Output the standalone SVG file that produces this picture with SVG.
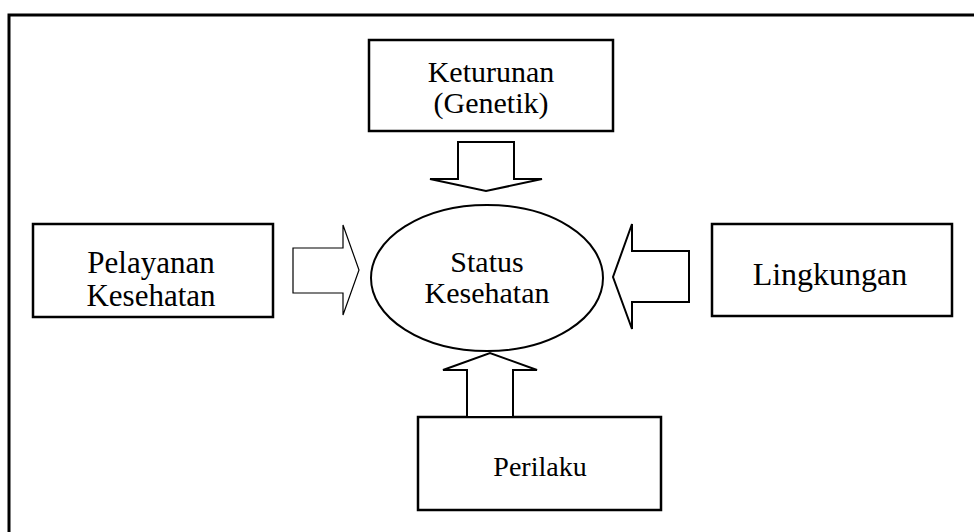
<svg xmlns="http://www.w3.org/2000/svg" width="974" height="532" viewBox="0 0 974 532">
<style>
.box{fill:#fff;stroke:#000;stroke-width:2.5}
.arr{fill:#fff;stroke:#000;stroke-width:2;stroke-linejoin:miter}
.arr2{fill:#fff;stroke:#000;stroke-width:1.2}
.t{font-family:'Liberation Serif', 'Times New Roman', serif;font-size:30px;fill:#000;text-anchor:middle}
.l{font-size:32px}
.p{font-size:31px}
</style>
<rect width="974" height="532" fill="#fff"/>
<path d="M9 540 V15 H990" fill="none" stroke="#000" stroke-width="3"/>
<g id="keturunan">
<rect class="box" x="369" y="40" width="244" height="91"/>
<text class="t" x="491" y="82">Keturunan</text>
<text class="t" x="491" y="113">(Genetik)</text>
</g>
<g id="pelayanan">
<rect class="box" x="33" y="224" width="240" height="93"/>
<text class="t p" x="151" y="273">Pelayanan</text>
<text class="t p" x="151" y="306">Kesehatan</text>
</g>
<g id="lingkungan">
<rect class="box" x="712" y="224" width="240" height="92"/>
<text class="t l" x="830" y="285">Lingkungan</text>
</g>
<g id="perilaku">
<rect class="box" x="418" y="417" width="243" height="93"/>
<text class="t" x="540" y="476" style="font-size:28px">Perilaku</text>
</g>
<g id="status">
<ellipse cx="487" cy="278" rx="116" ry="73" fill="#fff" stroke="#000" stroke-width="2"/>
<text class="t" x="487" y="272">Status</text>
<text class="t" x="487" y="303">Kesehatan</text>
</g>
<g id="connectors">
<polygon class="arr" points="458,142 514,142 514,179 542,179 486,191 430,179 458,179"/>
<polygon class="arr2" points="293,248 343,248 343,225 359,270 343,315 343,293 293,293"/>
<polygon class="arr" points="689,251 632,251 632,224 613,277 632,329 632,302 689,302"/>
<polygon class="arr" points="467,417 513,417 513,370 537,370 490,353 443,370 467,370"/>
</g>
</svg>
